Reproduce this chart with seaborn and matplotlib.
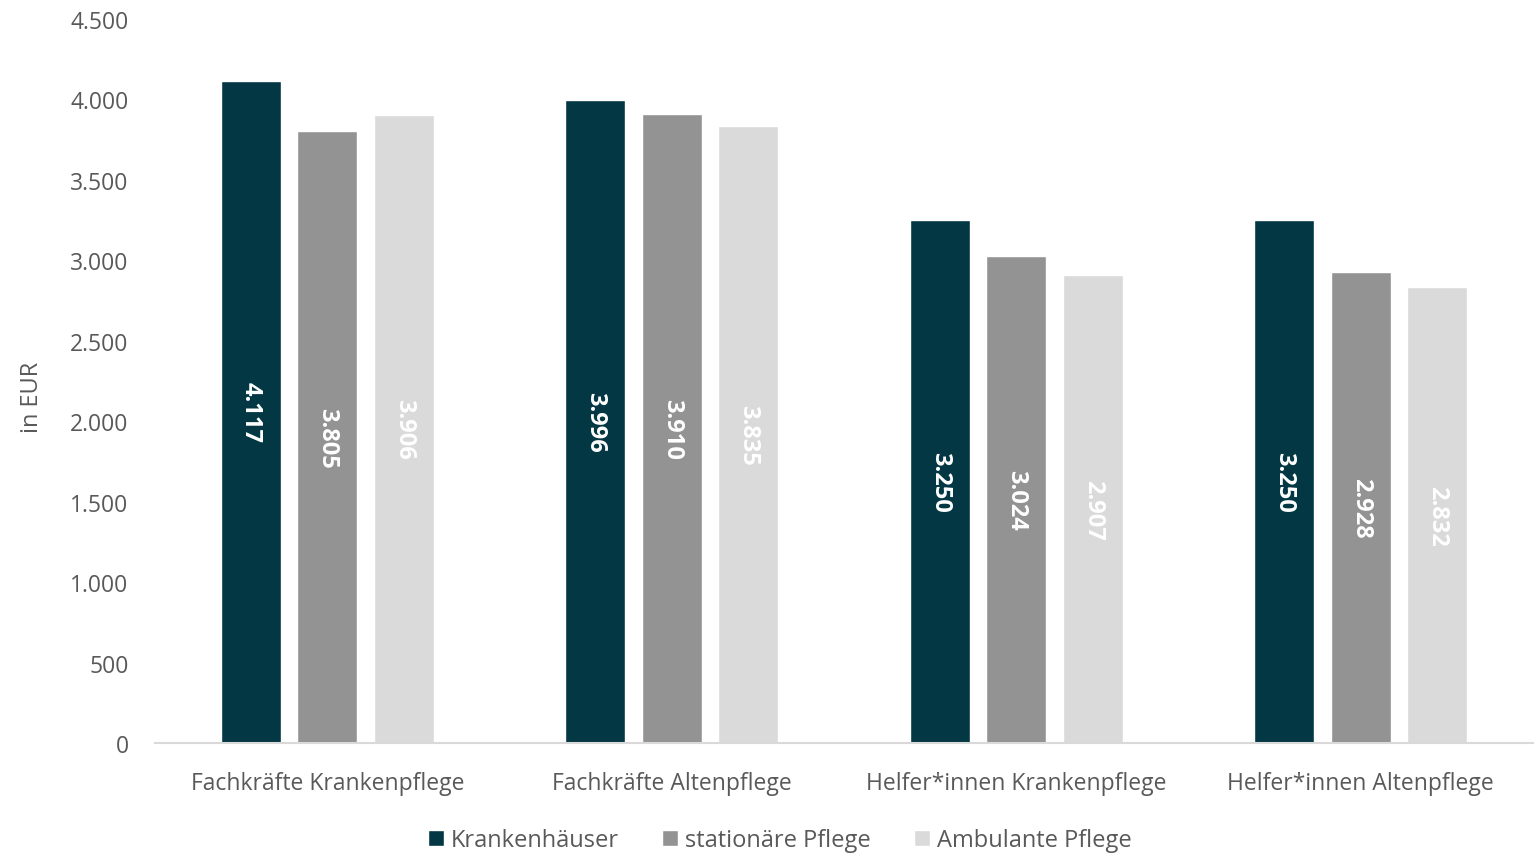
import matplotlib
matplotlib.use("Agg")
import matplotlib.pyplot as plt
import seaborn as sns
import pandas as pd
from matplotlib.ticker import FuncFormatter
from matplotlib.patches import Patch

categories = ["Fachkräfte Krankenpflege", "Fachkräfte Altenpflege",
              "Helfer*innen Krankenpflege", "Helfer*innen Altenpflege"]
series = ["Krankenhäuser", "stationäre Pflege", "Ambulante Pflege"]
krankenhaeuser = [4117, 3996, 3250, 3250]
stationaer = [3805, 3910, 3024, 2928]
ambulant = [3906, 3835, 2907, 2832]
colors = ["#023743", "#939393", "#DADADA"]

rows = []
for s, vals in zip(series, [krankenhaeuser, stationaer, ambulant]):
    for c, v in zip(categories, vals):
        rows.append({"Kategorie": c, "Serie": s, "Wert": v})
df = pd.DataFrame(rows)

sns.set_theme(style="white")
plt.rcParams["font.family"] = ["Open Sans", "DejaVu Sans"]

fig = plt.figure(figsize=(15.35, 8.54), dpi=100)
ax = fig.add_axes([0.101, 0.1288, 0.8977, 0.8478])

sns.barplot(data=df, x="Kategorie", y="Wert", hue="Serie", order=categories,
            hue_order=series, palette=colors, width=0.666, gap=0.22,
            saturation=1, errorbar=None, ax=ax, legend=False)

for cont in ax.containers:
    for bar in cont:
        h = bar.get_height()
        ax.text(bar.get_x() + bar.get_width() / 2, h / 2,
                f"{h:,.0f}".replace(",", "."), rotation=270,
                ha="center", va="center", color="white",
                fontsize=17, fontweight="bold")

ax.set_xlim(-0.5, 3.5)
ax.set_ylim(0, 4500)
ax.set_yticks(range(0, 4501, 500))
ax.yaxis.set_major_formatter(FuncFormatter(lambda v, p: f"{v:,.0f}".replace(",", ".")))
ax.tick_params(axis="both", labelsize=16.5, colors="#595959", length=0)
ax.tick_params(axis="x", pad=20)
ax.tick_params(axis="y", pad=19)
ax.set_xlabel("")
ax.set_ylabel("in EUR", fontsize=17, color="#595959")
ax.yaxis.set_label_coords(-0.0806, 0.479)
for s in ["left", "right", "top"]:
    ax.spines[s].set_visible(False)
ax.spines["bottom"].set_color("#D9D9D9")
ax.spines["bottom"].set_linewidth(1.5)
ax.grid(False)

handles = [Patch(facecolor=c, label=s) for c, s in zip(colors, series)]
fig.legend(handles=handles, loc="center", bbox_to_anchor=(0.508, 0.015),
           ncol=3, frameon=False, fontsize=17, labelcolor="#595959",
           handlelength=0.7, handleheight=0.7, handletextpad=0.3,
           columnspacing=1.8)

fig.savefig("out.png", dpi=100)
